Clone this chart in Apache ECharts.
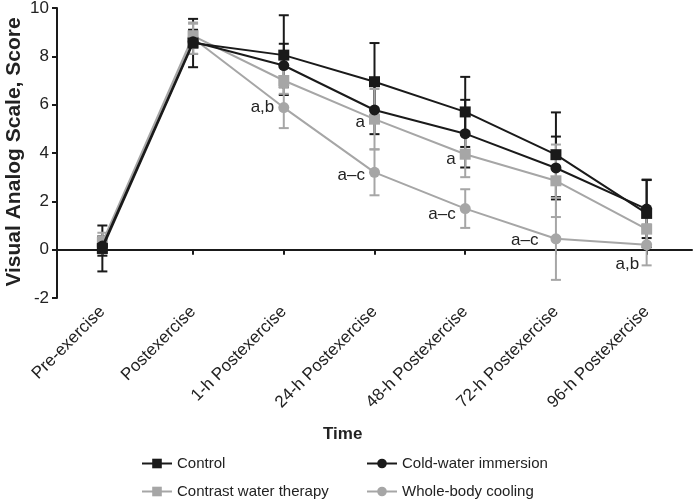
<!DOCTYPE html>
<html>
<head>
<meta charset="utf-8">
<script src="https://cdn.jsdelivr.net/npm/echarts@6/dist/echarts.min.js"></script>
<style>html,body{margin:0;padding:0;background:#fff}#c{width:693px;height:499px}</style>
</head>
<body>
<div id="c"></div>
<script>
var categories = ['Pre-exercise','Postexercise','1-h Postexercise','24-h Postexercise','48-h Postexercise','72-h Postexercise','96-h Postexercise'];
var yTicks = [-2, 0, 2, 4, 6, 8, 10];

var control   = [0.05, 8.55, 8.05, 6.95, 5.70, 3.93, 1.50];
var controlSD = [0.95, 1.00, 1.65, 1.60, 1.45, 1.75, 1.40];
var cwi       = [0.15, 8.60, 7.62, 5.78, 4.80, 3.38, 1.68];
var cwiSD     = [0.40, 0.50, 0.90, 1.00, 1.40, 1.30, 1.20];
var cwt       = [0.30, 8.85, 7.00, 5.40, 3.95, 2.85, 0.85];
var cwtSD     = [0.40, 0.50, 0.55, 1.25, 0.95, 1.50, 0.70];
var wbc       = [0.20, 8.75, 5.88, 3.20, 1.70, 0.45, 0.20];
var wbcSD     = [0.35, 0.65, 0.85, 0.95, 0.80, 1.70, 0.85];

var cwtMarks = ['', '', '', 'a', 'a', '', ''];
var wbcMarks = ['', '', 'a,b', 'a\u2013c', 'a\u2013c', 'a\u2013c', 'a,b'];

var BLACK = '#1a1a1a', GRAY = '#a6a6a6';
var FONT = '"Liberation Sans", Arial, sans-serif';

function errData(vals, sds) {
  return vals.map(function (v, i) { return [i, v - sds[i], v + sds[i]]; });
}
function errSeries(name, vals, sds, color, z) {
  return {
    type: 'custom', name: name + ' SD', xAxisIndex: 0, z: z, silent: true,
    data: errData(vals, sds),
    encode: { x: 0, y: [1, 2] },
    renderItem: function (params, api) {
      var x = api.value(0);
      var lo = api.coord([x, api.value(1)]);
      var hi = api.coord([x, api.value(2)]);
      var hw = 5;
      var st = { stroke: color, lineWidth: 2 };
      return { type: 'group', children: [
        { type: 'line', shape: { x1: lo[0], y1: lo[1], x2: hi[0], y2: hi[1] }, style: st },
        { type: 'line', shape: { x1: lo[0] - hw, y1: lo[1], x2: lo[0] + hw, y2: lo[1] }, style: st },
        { type: 'line', shape: { x1: hi[0] - hw, y1: hi[1], x2: hi[0] + hw, y2: hi[1] }, style: st }
      ]};
    }
  };
}
var markPosWbc = {
  2: { distance: 4, offset: [0, 0] },
  3: { distance: 4, offset: [0, 3] },
  4: { distance: 4, offset: [0, 6] },
  5: { distance: 4, offset: [-8, 2] },
  6: { distance: 2, offset: [0, 19] }
};
var markPosCwt = {
  3: { distance: 4, offset: [0, 3] },
  4: { distance: 4, offset: [0, 5] }
};
function withMarks(vals, marks, posMap) {
  return vals.map(function (v, i) {
    if (!marks[i]) return v;
    var p = posMap[i] || { distance: 4, offset: [0, 0] };
    return { value: v, label: { show: true, formatter: marks[i], position: 'left', distance: p.distance,
      offset: p.offset, color: '#222', fontSize: 17, fontFamily: FONT } };
  });
}
function lineSeries(name, vals, color, symbol, z, marks, posMap) {
  return {
    type: 'line', name: name, xAxisIndex: 0, z: z,
    data: marks ? withMarks(vals, marks, posMap) : vals,
    symbol: symbol, symbolSize: 11, showSymbol: true,
    lineStyle: { color: color, width: 2 },
    itemStyle: { color: color, borderWidth: 0 },
    emphasis: { disabled: true }, animation: false
  };
}

var chart = echarts.init(document.getElementById('c'), null, { renderer: 'canvas' });
var legendBase = { itemWidth: 30, itemHeight: 12, itemGap: 5, textStyle: { fontSize: 15, color: '#222', fontFamily: FONT } };
chart.setOption({
  animation: false,
  backgroundColor: '#fff',
  textStyle: { fontFamily: FONT },
  grid: { left: 57, right: 1, top: 8, bottom: 201, containLabel: false, outerBoundsMode: 'none' },
  xAxis: [
    { type: 'category', data: categories, position: 'bottom', boundaryGap: true,
      axisLine: { show: false, onZero: false }, axisTick: { show: false },
      axisLabel: { rotate: 45, fontSize: 17, color: '#222', margin: 11, fontFamily: FONT, interval: 0 } },
    { type: 'category', data: categories, position: 'top', boundaryGap: true,
      axisLine: { show: true, onZero: true, lineStyle: { color: BLACK, width: 2 } },
      axisTick: { show: true, inside: true, alignWithLabel: true, interval: 0, length: 5, lineStyle: { color: BLACK, width: 2 } },
      axisLabel: { show: false } }
  ],
  yAxis: { type: 'value', min: yTicks[0], max: yTicks[yTicks.length - 1], interval: 2,
    axisLine: { show: true, lineStyle: { color: BLACK, width: 2 } },
    axisTick: { show: true, length: 5, lineStyle: { color: BLACK, width: 2 } },
    axisLabel: { fontSize: 17, color: '#222', margin: 8, fontFamily: FONT },
    splitLine: { show: false } },
  graphic: [
    { type: 'text', left: 323, top: 426, style: { text: 'Time', font: 'bold 17px ' + FONT, fill: '#222' } },
    { type: 'text', x: 14, y: 152, rotation: Math.PI / 2,
      style: { text: 'Visual Analog Scale, Score', font: 'bold 21px ' + FONT, fill: '#222', align: 'center', verticalAlign: 'middle' } }
  ],
  legend: [
    Object.assign({ left: 136, top: 451, data: ['Control'] }, legendBase),
    Object.assign({ left: 361, top: 451, data: ['Cold-water immersion'] }, legendBase),
    Object.assign({ left: 136, top: 479, data: ['Contrast water therapy'] }, legendBase),
    Object.assign({ left: 361, top: 479, data: ['Whole-body cooling'] }, legendBase)
  ],
  series: [
    errSeries('Control', control, controlSD, BLACK, 1),
    errSeries('Cold-water immersion', cwi, cwiSD, BLACK, 2),
    errSeries('Contrast water therapy', cwt, cwtSD, GRAY, 3),
    errSeries('Whole-body cooling', wbc, wbcSD, GRAY, 4),
    lineSeries('Whole-body cooling', wbc, GRAY, 'circle', 5, wbcMarks, markPosWbc),
    lineSeries('Contrast water therapy', cwt, GRAY, 'rect', 6, cwtMarks, markPosCwt),
    lineSeries('Cold-water immersion', cwi, BLACK, 'circle', 7),
    lineSeries('Control', control, BLACK, 'rect', 8)
  ]
});
</script>
</body>
</html>
